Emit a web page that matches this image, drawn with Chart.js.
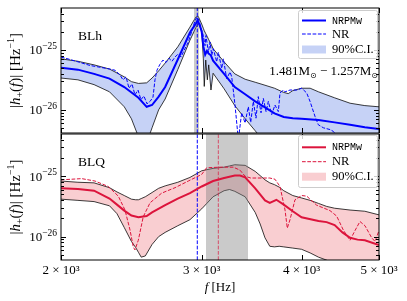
<!DOCTYPE html>
<html><head><meta charset="utf-8">
<script src="https://cdn.jsdelivr.net/npm/chart.js@4.4.1/dist/chart.umd.min.js"></script>
<style>
html,body{margin:0;padding:0;background:#fff;}
#wrap{position:relative;width:407px;height:301px;overflow:hidden;background:#fff;}
.panel{position:absolute;left:0;width:407px;}
</style></head><body>
<div id="wrap">
<div class="panel" style="top:0;height:134px"><canvas id="topChart"></canvas></div>
<div class="panel" style="top:133px;height:168px"><canvas id="botChart"></canvas></div>
</div>
<script>
// ---------- axis settings ----------
const Y_MIN = 4.1e-27, Y_MAX = 5.0e-25;
const X_MIN = 2000, X_MAX = 5000;
const xTickValues = [2000, 3000, 4000, 5000];
const xTickLabels = ['2 × 10³', '3 × 10³', '4 × 10³', '5 × 10³'];
const yTickExponents = [-25, -26];

// ---------- BLh (top) : values are log10 |h+| ----------
const blhBandFreq = [2000,2100,2200,2300,2400,2450,2500,2560,2600,2650,2700,2800,2900,2950,2970,3000,3014,3022,3035,3049,3061,3081,3100,3200,3300,3400,3500,3600,3700,3800,3850,3900,4000,4100,4200,4400,4600,4800,5000];
const blhUpperLog = [-25.15,-25.19,-25.25,-25.32,-25.45,-25.53,-25.56,-25.55,-25.47,-25.35,-25.22,-24.95,-24.62,-24.45,-24.44,-24.57,-24.64,-24.68,-24.73,-24.78,-24.83,-24.90,-24.98,-25.20,-25.40,-25.49,-25.54,-25.59,-25.64,-25.71,-25.73,-25.68,-25.64,-25.64,-25.70,-25.80,-25.89,-25.93,-25.95];
const blhLowerLog = [-25.47,-25.50,-25.58,-25.70,-25.95,-26.15,-26.45,-26.55,-26.30,-26.00,-25.82,-25.33,-24.84,-24.63,-24.55,-24.68,-25.15,-25.61,-25.17,-25.50,-25.25,-25.67,-25.39,-25.65,-25.93,-26.15,-26.35,-26.55,-26.65,-26.70,-26.70,-26.70,-26.70,-26.70,-26.70,-26.70,-26.70,-26.70,-26.70];
const blhFreq = [2000,2100,2200,2300,2400,2500,2560,2600,2650,2700,2800,2900,2950,2965,2985,3000,3015,3030,3045,3060,3080,3100,3200,3300,3400,3500,3600,3700,3800,3900,4000,4200,4400,4600,4800,5000];
const blhNrpmwLog = [-25.30,-25.33,-25.40,-25.48,-25.62,-25.80,-25.95,-25.92,-25.78,-25.62,-25.16,-24.71,-24.56,-24.51,-24.60,-24.70,-24.95,-25.08,-25.02,-25.06,-25.09,-25.18,-25.40,-25.62,-25.74,-25.86,-25.96,-26.06,-26.12,-26.14,-26.15,-26.17,-26.21,-26.25,-26.29,-26.32];
const blhNrFreq = [2000,2053,2113,2174,2238,2303,2337,2371,2391,2412,2433,2454,2475,2497,2518,2540,2562,2585,2607,2622,2637,2660,2683,2707,2730,2754,2778,2802,2826,2851,2884,2917,2943,2960,2977,2994,3014,3029,3037,3058,3073,3088,3102,3132,3147,3178,3193,3224,3255,3271,3302,3334,3366,3399,3431,3455,3481,3508,3531,3559,3583,3611,3635,3670,3705,3741,3759,3795,3814,3869,3945,4002,4060,4099,4158,4198,4259,4342,4383,4468,5000];
const blhNrLog = [-25.12,-25.16,-25.21,-25.26,-25.29,-25.32,-25.34,-25.42,-25.50,-25.45,-25.64,-25.57,-25.75,-25.67,-25.83,-25.77,-25.90,-25.86,-25.79,-25.50,-25.34,-25.24,-25.17,-25.21,-25.14,-25.19,-25.12,-25.07,-25.12,-25.01,-24.88,-24.68,-24.51,-24.45,-24.51,-24.64,-24.76,-24.93,-24.76,-25.04,-24.87,-25.09,-24.98,-25.20,-25.04,-25.31,-25.15,-25.48,-25.37,-25.45,-25.92,-26.50,-26.05,-26.22,-25.95,-26.21,-25.86,-26.14,-25.78,-26.05,-25.81,-26.03,-25.86,-26.08,-25.92,-26.03,-25.72,-25.67,-25.70,-25.67,-25.67,-25.64,-25.72,-25.86,-26.11,-26.25,-26.30,-26.33,-26.36,-26.50,-26.60];
const blhPeakBand = [2934, 2977];
const nrPeakFreq = 2962;

// ---------- BLQ (bottom) ----------
const blqBandFreq = [2000,2100,2200,2300,2350,2400,2450,2480,2500,2520,2550,2600,2650,2700,2800,2900,3000,3100,3200,3250,3300,3400,3500,3550,3600,3650,3700,3750,3800,3900,4000,4100,4200,4300,4400,4600,4800,5000];
const blqUpperLog = [-25.08,-25.10,-25.11,-25.19,-25.26,-25.32,-25.38,-25.39,-25.39,-25.37,-25.34,-25.27,-25.20,-25.16,-25.10,-25.02,-24.91,-24.87,-24.85,-24.83,-24.81,-24.82,-24.92,-24.99,-25.06,-25.11,-25.14,-25.18,-25.24,-25.32,-25.36,-25.40,-25.45,-25.50,-25.53,-25.56,-25.58,-25.64];
const blqLowerLog = [-25.38,-25.40,-25.42,-25.49,-25.62,-25.85,-26.08,-26.18,-26.26,-26.34,-26.32,-26.13,-26.00,-25.93,-25.82,-25.72,-25.54,-25.34,-25.24,-25.22,-25.25,-25.34,-25.60,-25.79,-26.02,-26.16,-26.17,-26.16,-26.17,-26.19,-26.21,-26.27,-26.34,-26.39,-26.47,-26.55,-26.60,-26.65];
const blqFreq = [2000,2100,2200,2300,2350,2400,2450,2500,2560,2600,2700,2800,2900,3000,3100,3200,3300,3350,3400,3500,3600,3650,3720,3800,3900,4000,4200,4300,4400,4500,4600,4700,4800,5000];
const blqNrpmwLog = [-25.20,-25.21,-25.24,-25.37,-25.47,-25.57,-25.65,-25.68,-25.66,-25.60,-25.48,-25.37,-25.28,-25.17,-25.08,-25.03,-24.99,-24.99,-25.02,-25.20,-25.40,-25.44,-25.39,-25.47,-25.58,-25.68,-25.74,-25.76,-25.81,-25.93,-26.02,-26.05,-26.06,-26.14];
const blqNrFreq = [2000,2123,2206,2292,2359,2405,2440,2463,2475,2499,2535,2585,2673,2778,2886,3000,3043,3162,3286,3350,3399,3455,3559,3650,3705,3759,3814,3839,3869,3925,4002,4060,4178,4342,4426,4511,4599,4666,4733,4802,4896,4943,5000];
const blqNrLog = [-25.06,-25.04,-25.08,-25.17,-25.33,-25.56,-25.89,-26.17,-26.22,-26.06,-25.67,-25.44,-25.28,-25.19,-25.08,-24.97,-24.86,-24.85,-24.85,-24.90,-25.00,-25.03,-25.03,-25.03,-25.05,-25.17,-25.56,-25.86,-25.72,-25.39,-25.32,-25.33,-25.48,-25.57,-25.66,-25.89,-26.06,-25.90,-25.75,-25.82,-26.02,-26.08,-25.90];
const blqPeakBand = [3037, 3428];
const blqNrPeakFreq = 3147;

// ---------- styling ----------
const SERIF = '"Liberation Serif", "DejaVu Serif", serif';
const MONO = '"Liberation Mono", "DejaVu Sans Mono", monospace';
const BLUE = '#0000ff', BLUE_FILL = 'rgba(65,105,225,0.30)';
const RED = '#dc143c', RED_FILL = 'rgba(230,60,70,0.25)';
const EDGE = 'rgba(0,0,0,0.85)';
const DASH = [3.7, 1.6];

function pts(freq, logs) { return freq.map((f, i) => ({x: f, y: Math.pow(10, logs[i])})); }
function vline(f, color, order) {
  return {data: [{x: f, y: Y_MIN}, {x: f, y: Y_MAX}], borderColor: color, borderWidth: 1,
    borderDash: DASH, pointRadius: 0, fill: false, order, clip: 0};
}
function vband(b, order) {
  return {data: [{x: b[0], y: Y_MAX}, {x: b[1], y: Y_MAX}], borderWidth: 0, borderColor: 'rgba(0,0,0,0)',
    backgroundColor: 'rgba(128,128,128,0.42)', fill: 'start', pointRadius: 0, order, clip: 0};
}
function curve(freq, logs, color, width, dash, order, extra) {
  return Object.assign({data: pts(freq, logs), borderColor: color, borderWidth: width,
    borderDash: dash || [], pointRadius: 0, fill: false, order, clip: 0}, extra || {});
}

function drawRich(ctx, parts, x, y, align) {
  let total = 0;
  parts.forEach(p => {
    ctx.font = (p[2] === 'i' ? 'italic ' : '') + p[1] + 'px ' + (p[4] || SERIF);
    p.w = ctx.measureText(p[0]).width; total += p.w;
  });
  let cx = align === 'right' ? x - total : (align === 'center' ? x - total / 2 : x);
  ctx.textAlign = 'left'; ctx.textBaseline = 'alphabetic';
  parts.forEach(p => {
    ctx.font = (p[2] === 'i' ? 'italic ' : '') + p[1] + 'px ' + (p[4] || SERIF);
    ctx.fillText(p[0], cx, y + (p[3] || 0)); cx += p.w;
  });
}

function decor(cfg) {
  return {
    id: 'decor',
    afterDraw(chart) {
      const {ctx, chartArea: a, scales: {x, y}} = chart;
      ctx.save();
      ctx.strokeStyle = '#000'; ctx.fillStyle = '#000'; ctx.lineWidth = 1;
      // ticks (inward, both sides)
      ctx.beginPath();
      for (let e = -27; e <= -25; e++) for (let k = 1; k <= 9; k++) {
        const v = k * Math.pow(10, e);
        if (v < y.min || v > y.max) continue;
        const py = Math.round(y.getPixelForValue(v)) + 0.5;
        const len = k === 1 ? 5 : 3;
        ctx.moveTo(a.left, py); ctx.lineTo(a.left + len, py);
        ctx.moveTo(a.right, py); ctx.lineTo(a.right - len, py);
      }
      xTickValues.forEach(v => {
        const px = Math.round(x.getPixelForValue(v)) + 0.5;
        ctx.moveTo(px, a.top); ctx.lineTo(px, a.top + 5);
        ctx.moveTo(px, a.bottom); ctx.lineTo(px, a.bottom - 5);
      });
      ctx.stroke();
      // frame
      ctx.strokeRect(a.left, a.top, a.right - a.left, a.bottom - a.top);
      // y tick labels
      yTickExponents.forEach(e => {
        const py = y.getPixelForValue(Math.pow(10, e));
        drawRich(ctx, [['10', 13, 'n', 0], ['−' + Math.abs(e), 9.5, 'n', -5.5]], 57, py + 4.5, 'right');
      });
      // y title
      ctx.save();
      ctx.translate(15, (a.top + a.bottom) / 2);
      ctx.rotate(-Math.PI / 2);
      drawRich(ctx, [['|', 15, 'n'], ['h', 15, 'i'], ['+', 10, 'n', 3], ['(', 15, 'n'], ['f', 15, 'i'], [')', 15, 'n'],
        ['|', 15, 'n'], [' [Hz', 15, 'n'], ['−1', 10, 'n', -6], [']', 15, 'n']], 0, 5, 'center');
      ctx.restore();
      // panel label
      drawRich(ctx, [[cfg.name, 13.5, 'n']], a.left + 17, a.top + 31.5, 'left');
      if (cfg.mass) {
        drawRich(ctx, [['1.481M', 13, 'n'], ['⊙', 8, 'n', 3, '"DejaVu Sans", sans-serif'], [' − 1.257M', 13, 'n'], ['⊙', 8, 'n', 3, '"DejaVu Sans", sans-serif']], 378, 75, 'right');
      }
      if (cfg.xTitle) {
        drawRich(ctx, [['f', 13, 'i'], [' [Hz]', 13, 'n']], (a.left + a.right) / 2, a.bottom + 31, 'center');
      }
      // legend
      const L = cfg.legend;
      ctx.fillStyle = 'rgba(255,255,255,0.8)'; ctx.strokeStyle = '#cccccc'; ctx.lineWidth = 1;
      ctx.beginPath();
      if (ctx.roundRect) ctx.roundRect(L.x + 0.5, L.y + 0.5, L.w, L.h, 2); else ctx.rect(L.x + 0.5, L.y + 0.5, L.w, L.h);
      ctx.fill(); ctx.stroke();
      const sx0 = 302, sx1 = 326, tx = 332;
      ctx.lineWidth = 2; ctx.strokeStyle = cfg.color; ctx.setLineDash([]);
      ctx.beginPath(); ctx.moveTo(sx0, L.rows[0]); ctx.lineTo(sx1, L.rows[0]); ctx.stroke();
      ctx.lineWidth = 1; ctx.setLineDash(DASH);
      ctx.beginPath(); ctx.moveTo(sx0, L.rows[1]); ctx.lineTo(sx1, L.rows[1]); ctx.stroke();
      ctx.setLineDash([]);
      ctx.fillStyle = cfg.fill; ctx.fillRect(sx0, L.rows[2] - 4, sx1 - sx0, 8);
      ctx.fillStyle = '#000'; ctx.textBaseline = 'middle'; ctx.textAlign = 'left';
      ctx.font = '10px ' + MONO; ctx.fillText('NRPMw', tx, L.rows[0] + 0.5);
      ctx.font = '12.5px ' + SERIF; ctx.fillText('NR', tx, L.rows[1] + 0.5);
      ctx.fillText('90%C.I.', tx, L.rows[2] + 0.5);
      ctx.restore();
    }
  };
}

function baseOptions(padding, xDisplay) {
  return {
    responsive: true, maintainAspectRatio: false, animation: false, devicePixelRatio: 1,
    layout: {padding},
    plugins: {legend: {display: false}, tooltip: {enabled: false}},
    elements: {line: {tension: 0}},
    scales: {
      x: {type: 'logarithmic', min: X_MIN, max: X_MAX, bounds: 'data', display: xDisplay,
        grid: {display: false, drawTicks: false}, border: {display: false},
        afterBuildTicks: s => { s.ticks = xTickValues.map(v => ({value: v})); },
        afterFit: s => { s.height = xDisplay ? 41 : 0; },
        ticks: {autoSkip: false, maxRotation: 0, minRotation: 0, padding: 3, color: '#000',
          font: {family: SERIF, size: 13},
          callback: v => { const i = xTickValues.indexOf(v); return i >= 0 ? xTickLabels[i] : ''; }}},
      y: {type: 'logarithmic', min: Y_MIN, max: Y_MAX, bounds: 'data', display: false}
    }
  };
}

new Chart(document.getElementById('topChart'), {
  type: 'line',
  data: {datasets: [
    curve(blhBandFreq, blhUpperLog, EDGE, 0.9, null, 6, {fill: '+1', backgroundColor: BLUE_FILL}),
    curve(blhBandFreq, blhLowerLog, EDGE, 0.9, null, 5),
    vband(blhPeakBand, 4),
    vline(nrPeakFreq, BLUE, 3),
    curve(blhNrFreq, blhNrLog, BLUE, 1, DASH, 2),
    curve(blhFreq, blhNrpmwLog, BLUE, 2, null, 1)
  ]},
  options: baseOptions({left: 61, right: 28, top: 8, bottom: 1}, false),
  plugins: [decor({name: 'BLh', mass: true, color: BLUE, fill: BLUE_FILL,
    legend: {x: 298, y: 10, w: 79, h: 48, rows: [20.5, 34, 49.5]}})]
});

new Chart(document.getElementById('botChart'), {
  type: 'line',
  data: {datasets: [
    curve(blqBandFreq, blqUpperLog, EDGE, 0.9, null, 7, {fill: '+1', backgroundColor: RED_FILL}),
    curve(blqBandFreq, blqLowerLog, EDGE, 0.9, null, 6),
    vband(blqPeakBand, 5),
    vline(nrPeakFreq, BLUE, 4),
    vline(blqNrPeakFreq, 'rgba(220,20,60,0.7)', 3),
    curve(blqNrFreq, blqNrLog, RED, 1, DASH, 2),
    curve(blqFreq, blqNrpmwLog, RED, 2, null, 1)
  ]},
  options: baseOptions({left: 61, right: 28, top: 1, bottom: 0}, true),
  plugins: [decor({name: 'BLQ', xTitle: true, color: RED, fill: RED_FILL,
    legend: {x: 298, y: 2, w: 79, h: 52, rows: [14.3, 28.7, 43.7]}})]
});
</script>
</body></html>
